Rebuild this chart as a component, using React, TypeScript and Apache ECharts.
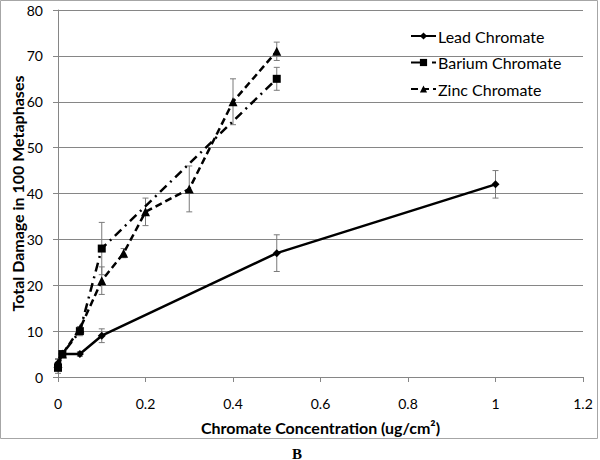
import React, { useEffect, useRef } from "react";
import * as echarts from "echarts";

const leadX = [0, 0.01, 0.05, 0.1, 0.5, 1];
const leadY = [3, 5, 5, 9, 27, 42];
const leadErr = [0.8, 0.5, 0.5, 1.5, 4, 3];

const bariumX = [0, 0.01, 0.05, 0.1, 0.5];
const bariumY = [2, 5, 10, 28, 65];
const bariumErr = [1.2, 0.5, 1, 5.7, 2.5];

const zincX = [0, 0.01, 0.05, 0.1, 0.15, 0.2, 0.3, 0.4, 0.5];
const zincY = [3, 5, 10.5, 21, 27, 36, 41, 60, 71];
const zincErr = [1, 0.5, 0.5, 3, 1, 3, 5, 5, 2];

const xTicks = [0, 0.2, 0.4, 0.6, 0.8, 1, 1.2];
const yTicks = [0, 10, 20, 30, 40, 50, 60, 70, 80];

const FONT = "Lato, 'Open Sans', sans-serif";
const GRAY = "#868686";

function pts(xs: number[], ys: number[]) {
  return xs.map((x, i) => [x, ys[i]]);
}
function errPts(xs: number[], ys: number[], es: number[]) {
  return xs.map((x, i) => [x, ys[i], es[i]]);
}

function errorSeries(data: number[][]) {
  return {
    type: "custom",
    silent: true,
    z: 1,
    data,
    renderItem: (params: any, api: any) => {
      const x = api.value(0);
      const y = api.value(1);
      const e = api.value(2);
      const top = api.coord([x, y + e]);
      const bot = api.coord([x, y - e]);
      const style = { stroke: "#7a7a7a", lineWidth: 1 };
      const cap = 3;
      return {
        type: "group",
        children: [
          { type: "line", shape: { x1: top[0], y1: top[1], x2: bot[0], y2: bot[1] }, style },
          { type: "line", shape: { x1: top[0] - cap, y1: top[1], x2: top[0] + cap, y2: top[1] }, style },
          { type: "line", shape: { x1: bot[0] - cap, y1: bot[1], x2: bot[0] + cap, y2: bot[1] }, style },
        ],
      };
    },
  };
}

export default function App() {
  const ref = useRef<HTMLDivElement>(null);
  useEffect(() => {
    if (!ref.current) return;
    const chart = echarts.init(ref.current, undefined, { renderer: "svg" });
    chart.setOption({
      animation: false,
      backgroundColor: "#ffffff",
      textStyle: { fontFamily: FONT },
      grid: {
        left: 58,
        right: 17,
        top: 10,
        bottom: 83,
        containLabel: false,
        outerBoundsMode: "none",
      },
      legend: {
        orient: "vertical",
        left: 405,
        top: 23,
        itemWidth: 25,
        itemHeight: 9,
        itemGap: 10.5,
        textStyle: { fontFamily: FONT, fontSize: 16, color: "#000", padding: [0, 0, 0, -3] },
        data: ["Lead Chromate", "Barium Chromate", "Zinc Chromate"],
      },
      xAxis: {
        type: "value",
        min: xTicks[0],
        max: xTicks[xTicks.length - 1],
        interval: 0.2,
        name: "Chromate Concentration (ug/cm²)",
        nameLocation: "middle",
        nameGap: 42,
        nameMoveOverlap: false,
        nameTextStyle: { fontFamily: FONT, fontWeight: "bold", fontSize: 16, color: "#000" },
        axisLine: { show: true, lineStyle: { color: GRAY, width: 1 } },
        axisTick: { show: true, length: 5, lineStyle: { color: GRAY } },
        axisLabel: { color: "#000", fontSize: 14, fontFamily: FONT, margin: 19 },
        splitLine: { show: false },
      },
      yAxis: {
        type: "value",
        min: yTicks[0],
        max: yTicks[yTicks.length - 1],
        interval: 10,
        name: "Total Damage in 100 Metaphases",
        nameLocation: "middle",
        nameGap: 33,
        nameMoveOverlap: false,
        nameTextStyle: { fontFamily: FONT, fontWeight: "bold", fontSize: 16, color: "#000" },
        axisLine: { show: true, lineStyle: { color: GRAY, width: 1 } },
        axisTick: { show: true, length: 5, lineStyle: { color: GRAY } },
        axisLabel: { color: "#000", fontSize: 14, fontFamily: FONT, margin: 15 },
        splitLine: { show: true, lineStyle: { color: GRAY, width: 1 } },
      },
      graphic: [
        {
          type: "rect",
          silent: true,
          shape: { x: 0.5, y: 0.5, width: 597, height: 438 },
          style: { fill: "none", stroke: "#a6a6a6", lineWidth: 1 },
        },
        {
          type: "text",
          x: 297,
          y: 446,
          style: {
            text: "B",
            fontFamily: "'Liberation Serif', 'DejaVu Serif', serif",
            fontWeight: "bold",
            fontSize: 15,
            fill: "#000",
            textAlign: "center",
          },
        },
      ],
      series: [
        errorSeries(errPts(leadX, leadY, leadErr)),
        errorSeries(errPts(bariumX, bariumY, bariumErr)),
        errorSeries(errPts(zincX, zincY, zincErr)),
        {
          name: "Lead Chromate",
          type: "line",
          z: 3,
          data: pts(leadX, leadY),
          symbol: "diamond",
          symbolSize: 8,
          itemStyle: { color: "#000" },
          lineStyle: { color: "#000", width: 2.5, type: "solid" },
        },
        {
          name: "Barium Chromate",
          type: "line",
          z: 3,
          data: pts(bariumX, bariumY),
          symbol: "rect",
          symbolSize: 8,
          itemStyle: { color: "#000" },
          lineStyle: { color: "#000", width: 2.5, type: [9, 5, 2, 5] },
        },
        {
          name: "Zinc Chromate",
          type: "line",
          z: 3,
          data: pts(zincX, zincY),
          symbol: "triangle",
          symbolSize: 9,
          itemStyle: { color: "#000" },
          lineStyle: { color: "#000", width: 2.5, type: [7, 4] },
        },
      ],
    });
    return () => chart.dispose();
  }, []);
  return (
    <div
      ref={ref}
      style={{ position: "fixed", left: 0, top: 0, width: 600, height: 460, background: "#fff" }}
    />
  );
}
